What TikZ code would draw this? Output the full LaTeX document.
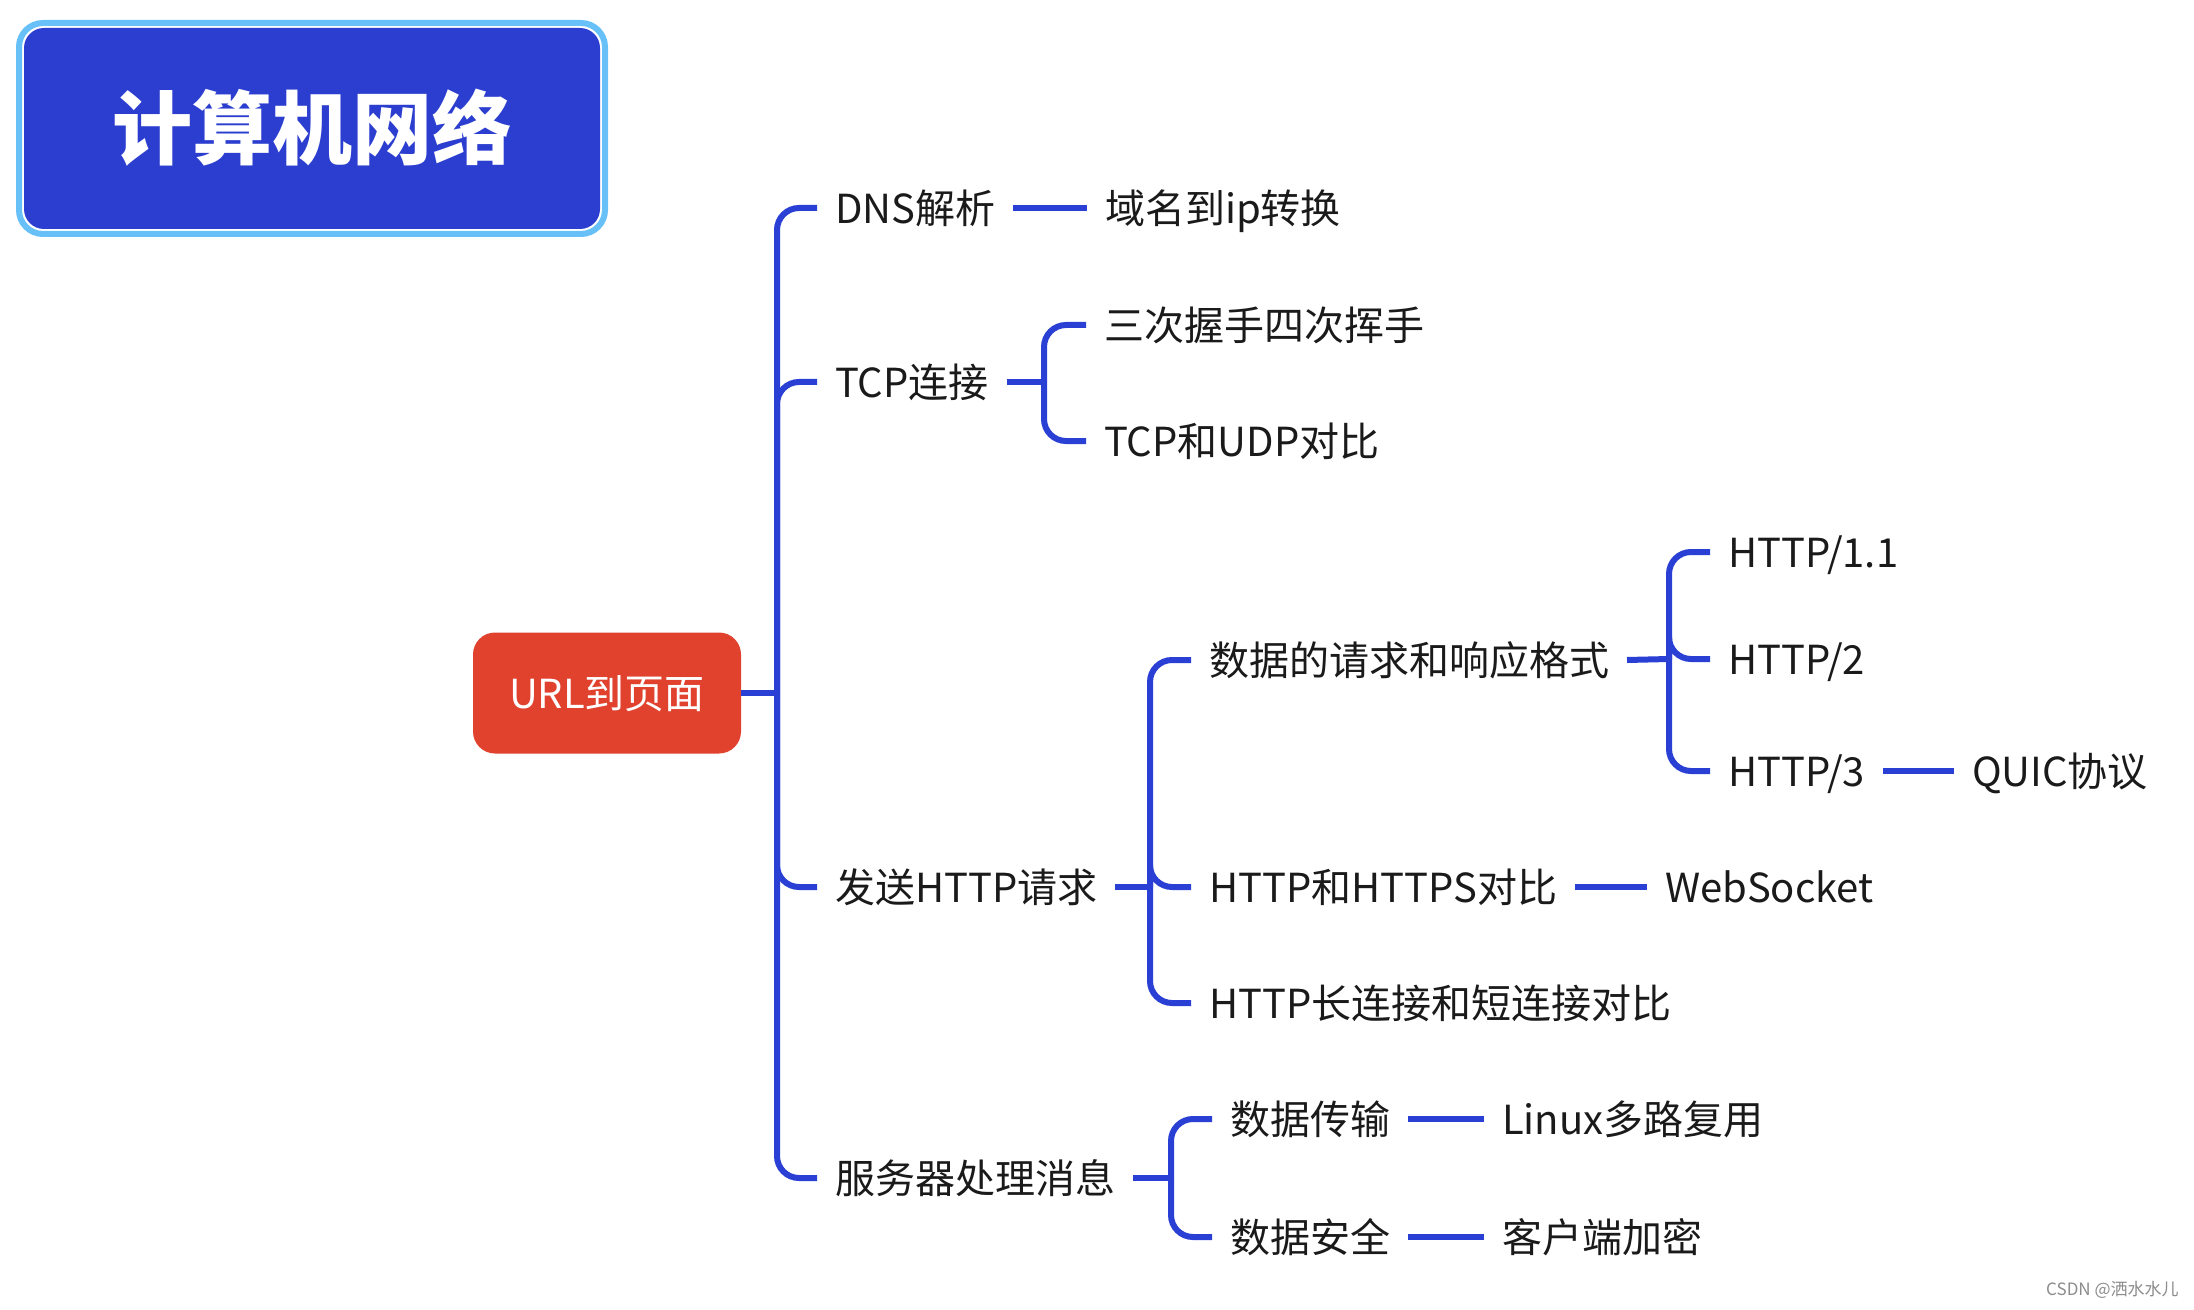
\documentclass[tikz,border=0pt]{standalone}
\usepackage{fontspec}
\setmainfont{Noto Sans CJK SC}
\usepackage{tikz}
\usetikzlibrary{calc}
\definecolor{linkblue}{RGB}{42,63,212}
\definecolor{titleblue}{RGB}{43,62,207}
\definecolor{titlering}{RGB}{104,192,248}
\definecolor{rootred}{RGB}{224,66,46}
\definecolor{ink}{RGB}{26,26,26}

\begin{document}
\begin{tikzpicture}[x=0.5pt,y=-0.5pt,
  branch/.style={draw=linkblue,line width=3pt,rounded corners=11pt},
  topic/.style={anchor=west,inner xsep=9pt,inner ysep=0pt,outer sep=0pt,text=ink,
    font=\fontsize{20}{24}\selectfont,text height=17.6pt,text depth=2.4pt}]
\path[use as bounding box,fill=white] (0,0) rectangle (2194,1310);
% title block:
\node[fill=titleblue,rounded corners=10pt,minimum width=288pt,minimum height=100.5pt,
  inner sep=0pt,outer sep=0pt,text=white,font=\bfseries\fontsize{40}{48}\selectfont,
  text height=35.2pt,text depth=4.8pt] (title) at (312,128.5) {计算机网络};
\draw[titlering,line width=3pt,rounded corners=12pt]
  ($(title.north west)+(-5,-5)$) rectangle ($(title.south east)+(5,5)$);
% root:
\node[fill=rootred,rounded corners=11pt,minimum width=134pt,minimum height=60.5pt,
  inner sep=0pt,outer sep=0pt,text=white,font=\fontsize{20}{24}\selectfont,
  text height=17.6pt,text depth=2.4pt] (root) at (607,693) {URL到页面};
% first level:
\node[topic] (dns) at (817,208) {DNS解析};
\node[topic] (tcp) at (817,382) {TCP连接};
\node[topic] (send) at (817,887) {发送HTTP请求};
\node[topic] (server) at (817,1178) {服务器处理消息};
% second level:
\node[topic] (ipconv) at (1087,208) {域名到ip转换};
\node[topic] (shake) at (1086,325) {三次握手四次挥手};
\node[topic] (tcpudp) at (1086,441) {TCP和UDP对比};
\node[topic] (fmt) at (1191,660) {数据的请求和响应格式};
\node[topic] (https) at (1191,887) {HTTP和HTTPS对比};
\node[topic] (keepalive) at (1191,1003) {HTTP长连接和短连接对比};
\node[topic] (trans) at (1212,1119) {数据传输};
\node[topic] (secure) at (1212,1237) {数据安全};
% third level:
\node[topic] (http1) at (1710,552) {HTTP/1.1};
\node[topic] (http2) at (1710,659) {HTTP/2};
\node[topic] (http3) at (1710,771) {HTTP/3};
\node[topic] (websock) at (1647,887) {WebSocket};
\node[topic] (linux) at (1484,1119) {Linux多路复用};
\node[topic] (encrypt) at (1484,1237) {客户端加密};
% fourth level:
\node[topic] (quic) at (1954,771) {QUIC协议};
% junctions:
\coordinate (jroot) at (777,693);
\coordinate (jtcp) at (1044,382);
\coordinate (jsend) at (1150,887);
\coordinate (jfmt) at (1669,659);
\coordinate (jserver) at (1171,1178);
% main trunk:
\draw[branch] (root.east) -- (jroot);
\draw[branch] (jroot) |- (dns.west);
\draw[branch] (jroot) |- (tcp.west);
\draw[branch] (jroot) |- (send.west);
\draw[branch] (jroot) |- (server.west);
% branches:
\draw[branch] (dns.east) -- (ipconv.west);
\draw[branch] (tcp.east) -- (jtcp);
\draw[branch] (jtcp) |- (shake.west);
\draw[branch] (jtcp) |- (tcpudp.west);
\draw[branch] (send.east) -- (jsend);
\draw[branch] (jsend) |- (fmt.west);
\draw[branch] (jsend) |- (https.west);
\draw[branch] (jsend) |- (keepalive.west);
\draw[branch] (fmt.east) -- (jfmt);
\draw[branch] (jfmt) |- (http1.west);
\draw[branch] (jfmt) |- (http2.west);
\draw[branch] (jfmt) |- (http3.west);
\draw[branch] (http3.east) -- (quic.west);
\draw[branch] (https.east) -- (websock.west);
\draw[branch] (server.east) -- (jserver);
\draw[branch] (jserver) |- (trans.west);
\draw[branch] (jserver) |- (secure.west);
\draw[branch] (trans.east) -- (linux.west);
\draw[branch] (secure.east) -- (encrypt.west);
% watermark:
\node[anchor=east,inner sep=0pt,text=gray!90,font=\fontsize{8.5}{10}\selectfont] (mark)
  at (2179,1290) {CSDN @洒水水儿};
\end{tikzpicture}
\end{document}
